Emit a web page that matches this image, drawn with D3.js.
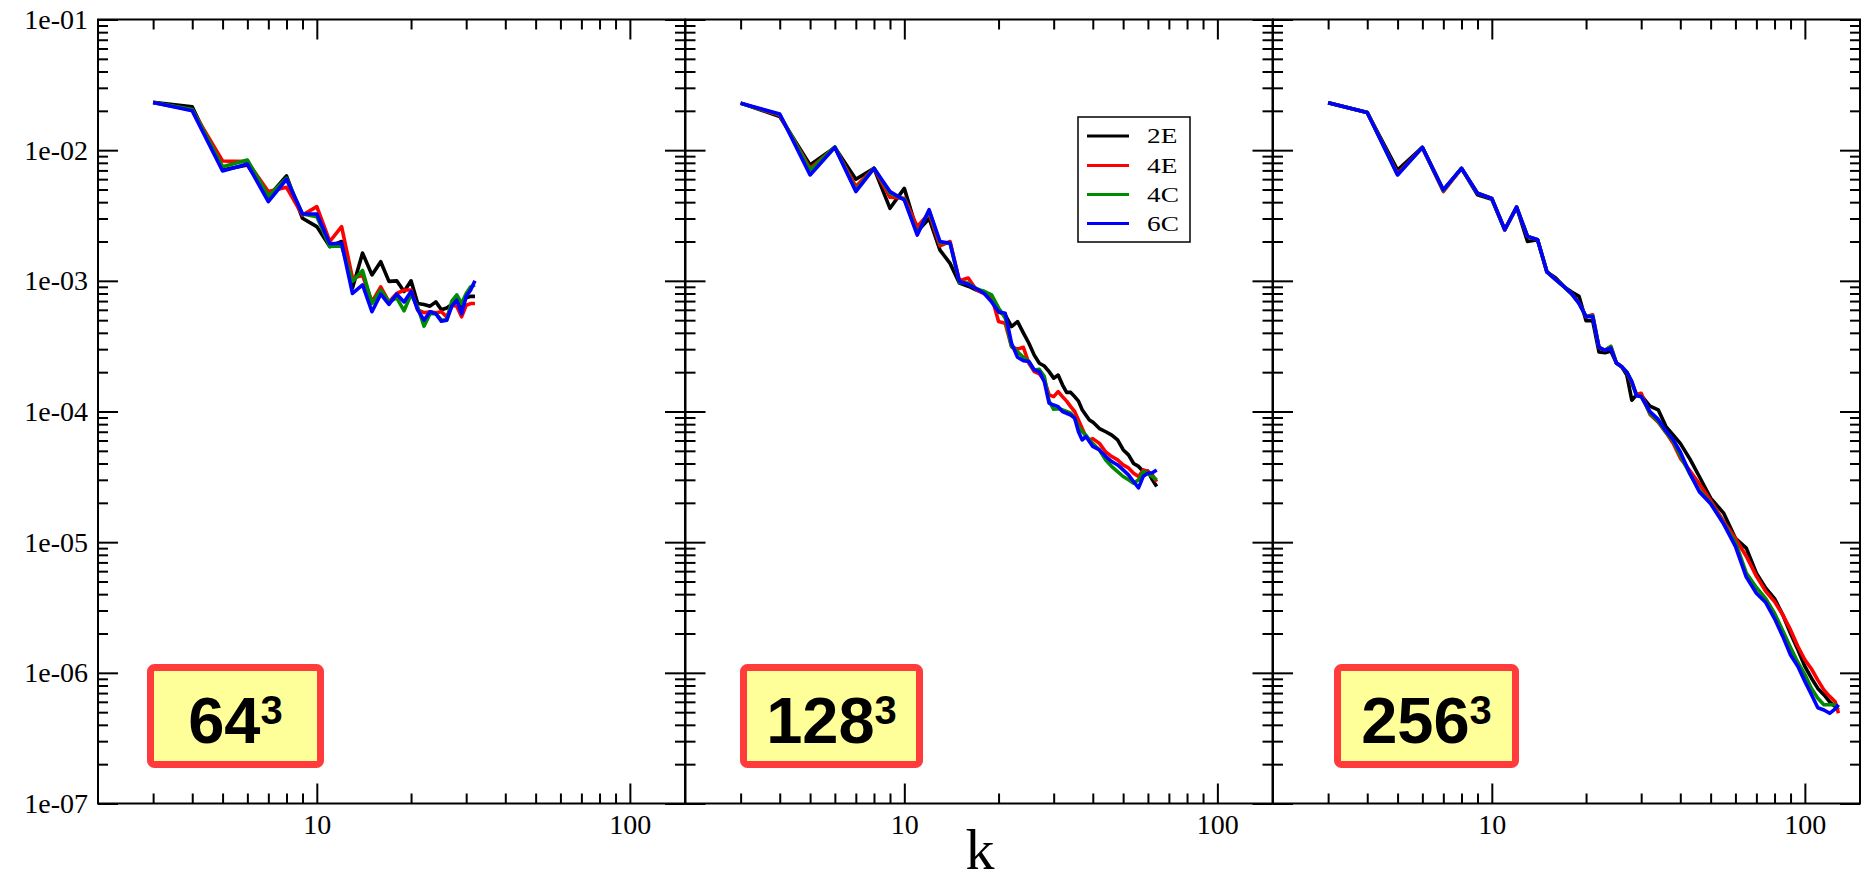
<!DOCTYPE html>
<html><head><meta charset="utf-8">
<script src="https://cdn.jsdelivr.net/npm/d3@7"></script>
<style>html,body{margin:0;padding:0;background:#fff} svg{display:block}</style>
</head><body>
<svg id="chart" width="1872" height="884"></svg>
<script>
// ---------------- DATA ----------------
const seriesNames  = ["2E", "4E", "4C", "6C"];
const seriesColors = ["#000000", "#ff0000", "#008c00", "#0000ff"];
const panelLabels  = ["64", "128", "256"];
const panelExponent = "3";
const xTickValues = [10, 100];
const xTickLabels = ["10", "100"];
const xMinorValues = [3, 4, 5, 6, 7, 8, 9, 20, 30, 40, 50, 60, 70, 80, 90];
const yTickValues = [1e-7, 1e-6, 1e-5, 1e-4, 1e-3, 1e-2, 1e-1];
const yTickLabels = ["1e-07", "1e-06", "1e-05", "1e-04", "1e-03", "1e-02", "1e-01"];
const axisTitle = "k";

// 64^3
const kP1 = [3,4,5,6,7,8,9,10,11,12,13,14,15,16,17,18,19,20,21,22,23,24,25,26,27,28,29,30,31,32];
const p1_2E = [0.0232,0.0215,7.05e-3,7.7e-3,4.41e-3,6.35e-3,3.01e-3,2.6e-3,1.83e-3,2.0e-3,8.8e-4,1.63e-3,1.11e-3,1.40e-3,9.9e-4,1.0e-3,8.3e-4,1.0e-3,6.7e-4,6.6e-4,6.4e-4,6.9e-4,6.0e-4,6.2e-4,6.6e-4,7.1e-4,6.4e-4,7.4e-4,7.6e-4,7.6e-4];
const p1_4E = [0.0232,0.0203,8.26e-3,8.17e-3,4.82e-3,5.2e-3,3.19e-3,3.7e-3,2.0e-3,2.6e-3,1.05e-3,1.1e-3,6.9e-4,9.0e-4,6.9e-4,8.0e-4,8.5e-4,8.5e-4,6.0e-4,5.7e-4,5.8e-4,5.7e-4,5.8e-4,5.3e-4,6.5e-4,6.4e-4,5.3e-4,6.5e-4,6.7e-4,6.7e-4];
const p1_4C = [0.0232,0.0205,7.48e-3,8.41e-3,4.46e-3,6.1e-3,3.25e-3,3.1e-3,1.83e-3,1.85e-3,9.9e-4,1.2e-3,6.7e-4,8.5e-4,6.9e-4,7.4e-4,5.9e-4,7.9e-4,6.3e-4,4.5e-4,5.6e-4,5.6e-4,5.0e-4,5.0e-4,7.0e-4,7.8e-4,6.7e-4,8.0e-4,9.0e-4,9.3e-4];
const p1_6C = [0.0232,0.0200,6.93e-3,7.83e-3,4.04e-3,5.99e-3,3.25e-3,3.25e-3,1.92e-3,1.94e-3,8.0e-4,9.3e-4,5.8e-4,7.9e-4,6.6e-4,7.9e-4,6.9e-4,8.3e-4,6.0e-4,5.0e-4,5.8e-4,5.6e-4,4.9e-4,5.0e-4,6.4e-4,7.1e-4,5.6e-4,7.6e-4,8.5e-4,1.0e-3];

// 128^3
const kP2 = [3,4,5,6,7,8,9,10,11,12,13,14,15,16,17,18,19,20,21,22,23,24,25,26,27,28,29,30,31,32,33,34,35,36,37,38,39,40,42,44,46,48,50,52,54,56,58,60,62,64];
const p2_2E = [0.0229,0.0181,7.7e-3,0.0105,5.99e-3,7.26e-3,3.59e-3,5.1e-3,2.38e-3,3.0e-3,1.72e-3,1.36e-3,
  9.6e-4,9.1e-4,8.5e-4,8.27e-4,7.14e-4,5.8e-4,5.5e-4,4.47e-4,4.88e-4,4.0e-4,3.33e-4,2.7e-4,2.34e-4,2.23e-4,2.02e-4,1.8e-4,1.9e-4,1.6e-4,1.4e-4,1.4e-4,1.3e-4,1.2e-4,1.03e-4,9.4e-5,8.6e-5,8.3e-5,
  7.4e-5,7.0e-5,6.6e-5,6.06e-5,5.1e-5,4.66e-5,4.0e-5,3.8e-5,3.47e-5,3.5e-5,3.0e-5,2.67e-5];
const p2_4E = [0.0229,0.0185,7.26e-3,0.0105,5.26e-3,7.26e-3,4.36e-3,4.28e-3,2.6e-3,3.3e-3,1.85e-3,2.0e-3,
  1.0e-3,1.05e-3,8.5e-4,8.0e-4,7.6e-4,4.88e-4,4.73e-4,3.14e-4,3.0e-4,3.1e-4,2.34e-4,2.02e-4,1.94e-4,1.74e-4,1.34e-4,1.3e-4,1.42e-4,1.3e-4,1.2e-4,1.09e-4,1.0e-4,8.6e-5,7.4e-5,6.43e-5,6.06e-5,6.2e-5,
  5.7e-5,4.9e-5,4.52e-5,4.26e-5,3.9e-5,3.7e-5,3.37e-5,3.18e-5,3.57e-5,3.47e-5,3.27e-5,2.9e-5];
const p2_4C = [0.0229,0.0187,7.05e-3,0.0106,4.96e-3,7.3e-3,4.68e-3,4.2e-3,2.3e-3,3.45e-3,1.95e-3,1.95e-3,
  9.7e-4,9.6e-4,8.7e-4,8.3e-4,7.8e-4,6.2e-4,5.2e-4,3.14e-4,2.87e-4,2.6e-4,2.41e-4,2.08e-4,2.1e-4,1.85e-4,1.2e-4,1.04e-4,1.05e-4,1.03e-4,1.0e-4,9.7e-5,8.9e-5,7.67e-5,7.0e-5,6.6e-5,6.06e-5,5.7e-5,
  5.08e-5,4.26e-5,3.79e-5,3.47e-5,3.18e-5,3.0e-5,2.83e-5,3.0e-5,3.47e-5,3.37e-5,3.18e-5,3.0e-5];
const p2_6C = [0.0229,0.0189,6.46e-3,0.0105,4.82e-3,7.26e-3,4.82e-3,4.16e-3,2.24e-3,3.5e-3,2.0e-3,1.94e-3,
  9.9e-4,9.4e-4,8.7e-4,8.0e-4,6.9e-4,5.8e-4,5.65e-4,3.33e-4,2.6e-4,2.45e-4,2.41e-4,2.08e-4,2.02e-4,1.69e-4,1.16e-4,1.12e-4,1.09e-4,1.0e-4,9.7e-5,9.4e-5,8.9e-5,7.0e-5,6.06e-5,6.43e-5,5.9e-5,5.4e-5,
  5.08e-5,4.52e-5,4.14e-5,3.9e-5,3.57e-5,3.27e-5,2.9e-5,2.6e-5,3.2e-5,3.37e-5,3.4e-5,3.57e-5];

// 256^3
const kP3 = [3,4,5,6,7,8,9,10,11,12,13,14,15,16,17,18,19,20,21,22,23,24,25,26,27,28,29,30,32,34,36,38,40,43,46,50,55,60,65,70,75,80,85,90,95,100,105,110,115,120,125,128];
const p3_2E = [0.0231,0.0194,7.05e-3,0.0105,4.96e-3,7.26e-3,4.55e-3,4.2e-3,2.46e-3,3.66e-3,2.0e-3,2.06e-3,1.17e-3,1.05e-3,9.03e-4,8.2e-4,7.6e-4,4.95e-4,4.95e-4,2.85e-4,2.82e-4,2.9e-4,2.35e-4,
  2.2e-4,1.9e-4,1.22e-4,1.34e-4,1.33e-4,
  1.1e-4,1.03e-4,7.67e-5,6.6e-5,5.7e-5,4.3e-5,3.18e-5,2.17e-5,1.67e-5,1.07e-5,9.0e-6,5.8e-6,4.45e-6,3.7e-6,2.78e-6,2.0e-6,1.5e-6,1.12e-6,9.1e-7,7.6e-7,6.8e-7,6.0e-7,5.5e-7,5.2e-7];
const p3_4E = [0.0231,0.0194,6.6e-3,0.0105,4.82e-3,7.26e-3,4.68e-3,4.28e-3,2.46e-3,3.66e-3,2.19e-3,2.06e-3,1.17e-3,1.02e-3,9.03e-4,7.94e-4,6.73e-4,5.32e-4,5.5e-4,3.09e-4,2.94e-4,3.15e-4,2.35e-4,
  2.2e-4,2.0e-4,1.65e-4,1.35e-4,1.38e-4,
  9.5e-5,8.3e-5,6.9e-5,5.7e-5,4.4e-5,3.5e-5,2.8e-5,2.08e-5,1.44e-5,1.07e-5,7.8e-6,5.5e-6,4.2e-6,3.51e-6,2.78e-6,2.13e-6,1.59e-6,1.26e-6,1.07e-6,8.8e-7,7.4e-7,6.6e-7,6.0e-7,4.9e-7];
const p3_4C = [0.0231,0.0194,6.5e-3,0.0105,4.9e-3,7.26e-3,4.68e-3,4.28e-3,2.46e-3,3.66e-3,2.19e-3,2.06e-3,1.17e-3,1.02e-3,9.03e-4,7.94e-4,6.73e-4,5.32e-4,5.4e-4,3.09e-4,2.94e-4,3.15e-4,2.35e-4,
  2.2e-4,2.0e-4,1.68e-4,1.33e-4,1.31e-4,
  9.7e-5,8.4e-5,6.95e-5,5.9e-5,4.6e-5,3.3e-5,2.5e-5,2.0e-5,1.39e-5,1.0e-5,5.8e-6,4.5e-6,3.7e-6,2.86e-6,2.1e-6,1.56e-6,1.2e-6,9.7e-7,7.6e-7,6.4e-7,5.7e-7,5.7e-7,5.7e-7,5.4e-7];
const p3_6C = [0.0231,0.0194,6.46e-3,0.0105,4.96e-3,7.26e-3,4.68e-3,4.28e-3,2.46e-3,3.66e-3,2.19e-3,2.06e-3,1.17e-3,1.02e-3,9.03e-4,7.94e-4,6.73e-4,5.32e-4,5.32e-4,3.09e-4,2.94e-4,3.05e-4,2.35e-4,
  2.2e-4,2.0e-4,1.7e-4,1.32e-4,1.3e-4,
  1.0e-4,8.7e-5,7.1e-5,6.06e-5,4.9e-5,3.33e-5,2.43e-5,1.97e-5,1.38e-5,9.3e-6,5.4e-6,4.07e-6,3.45e-6,2.6e-6,1.9e-6,1.37e-6,1.12e-6,8.6e-7,6.8e-7,5.4e-7,5.2e-7,4.9e-7,5.3e-7,5.7e-7];

const panelK = [kP1, kP2, kP3];
const panelSeries = [
  [p1_2E, p1_4E, p1_4C, p1_6C],
  [p2_2E, p2_4E, p2_4C, p2_6C],
  [p3_2E, p3_4E, p3_4C, p3_6C]
];

// ---------------- LAYOUT ----------------
const panelLeft = [98, 685.5, 1273];
const panelWidth = 587;
const plotTop = 19.5, plotBottom = 803.5;
const boxRects = [[150.5, 667.5, 170, 97], [743.5, 667.5, 176, 97], [1337.5, 667.5, 178, 97]];
const serif = "'Liberation Serif','Times New Roman',serif";
const sans = "'Liberation Sans',Arial,sans-serif";

const svg = d3.select("#chart");
svg.append("rect").attr("width", 1872).attr("height", 884).attr("fill", "#fff");

const y = d3.scaleLog().domain([1e-7, 1e-1]).range([plotBottom, plotTop]);
const yMinorValues = [];
yTickValues.slice(0, -1).forEach(d => { for (let m = 2; m <= 9; m++) yMinorValues.push(d * m); });

function styleAxis(g) {
  g.select(".domain").remove();
  g.selectAll(".tick line").attr("stroke", "#000").attr("stroke-width", 2);
  g.selectAll("text").attr("font-family", serif).attr("font-size", 28).attr("fill", "#000");
}

panelK.forEach((ks, i) => {
  const L = panelLeft[i];
  const x = d3.scaleLog().domain([2, 150]).range([L, L + panelWidth]);
  const g = svg.append("g");

  const line = d3.line().x(d => x(d[0])).y(d => y(d[1]));
  panelSeries[i].forEach((vals, s) => {
    g.append("path")
      .datum(ks.map((k, j) => [k, vals[j]]))
      .attr("d", line)
      .attr("fill", "none")
      .attr("stroke", seriesColors[s])
      .attr("stroke-width", 3.6)
      .attr("stroke-linejoin", "round");
  });

  g.append("g").attr("transform", `translate(0,${plotBottom})`)
    .call(d3.axisBottom(x).tickValues(xTickValues).tickSize(-20).tickSizeOuter(0).tickPadding(11)
      .tickFormat((d, j) => xTickLabels[j]))
    .call(styleAxis);
  g.append("g").attr("transform", `translate(0,${plotBottom})`)
    .call(d3.axisBottom(x).tickValues(xMinorValues).tickSize(-10).tickSizeOuter(0).tickFormat(""))
    .call(styleAxis);
  g.append("g").attr("transform", `translate(0,${plotTop})`)
    .call(d3.axisTop(x).tickValues(xTickValues).tickSize(-20).tickSizeOuter(0).tickFormat(""))
    .call(styleAxis);
  g.append("g").attr("transform", `translate(0,${plotTop})`)
    .call(d3.axisTop(x).tickValues(xMinorValues).tickSize(-10).tickSizeOuter(0).tickFormat(""))
    .call(styleAxis);
  g.append("g").attr("transform", `translate(${L},0)`)
    .call(d3.axisLeft(y).tickValues(yTickValues).tickSize(-20).tickSizeOuter(0).tickPadding(10)
      .tickFormat((d, j) => i === 0 ? yTickLabels[j] : ""))
    .call(styleAxis);
  g.append("g").attr("transform", `translate(${L},0)`)
    .call(d3.axisLeft(y).tickValues(yMinorValues).tickSize(-10).tickSizeOuter(0).tickFormat(""))
    .call(styleAxis);
  g.append("g").attr("transform", `translate(${L + panelWidth},0)`)
    .call(d3.axisRight(y).tickValues(yTickValues).tickSize(-20).tickSizeOuter(0).tickFormat(""))
    .call(styleAxis);
  g.append("g").attr("transform", `translate(${L + panelWidth},0)`)
    .call(d3.axisRight(y).tickValues(yMinorValues).tickSize(-10).tickSizeOuter(0).tickFormat(""))
    .call(styleAxis);

  g.append("rect").attr("x", L).attr("y", plotTop).attr("width", panelWidth).attr("height", plotBottom - plotTop)
    .attr("fill", "none").attr("stroke", "#000").attr("stroke-width", 2);

  const b = boxRects[i];
  g.append("rect").attr("x", b[0]).attr("y", b[1]).attr("width", b[2]).attr("height", b[3])
    .attr("rx", 4).attr("fill", "#ffff99").attr("stroke", "#ff3b3b").attr("stroke-width", 7);
  const t = g.append("text").attr("x", b[0] + b[2] / 2).attr("y", 743)
    .attr("text-anchor", "middle").attr("font-family", sans).attr("font-weight", "bold")
    .attr("font-size", 65).attr("fill", "#000");
  t.append("tspan").text(panelLabels[i]);
  t.append("tspan").attr("font-size", 40).attr("dy", -19).text(panelExponent);
});

svg.append("text").attr("x", 980).attr("y", 869).attr("text-anchor", "middle")
  .attr("font-family", serif).attr("font-size", 58).attr("fill", "#000").text(axisTitle);

const lg = svg.append("g");
lg.append("rect").attr("x", 1078).attr("y", 117).attr("width", 112).attr("height", 125)
  .attr("fill", "#fff").attr("stroke", "#000").attr("stroke-width", 1.5);
const rowY = [136, 165.5, 194.5, 223.5];
seriesNames.forEach((n, s) => {
  lg.append("line").attr("x1", 1087).attr("x2", 1129).attr("y1", rowY[s]).attr("y2", rowY[s])
    .attr("stroke", seriesColors[s]).attr("stroke-width", 3);
  lg.append("text").attr("transform", `translate(1147,${rowY[s]}) scale(1.3,1)`)
    .attr("dy", "0.35em").attr("font-family", serif).attr("font-size", 21).attr("fill", "#000").text(n);
});
</script>
</body></html>
